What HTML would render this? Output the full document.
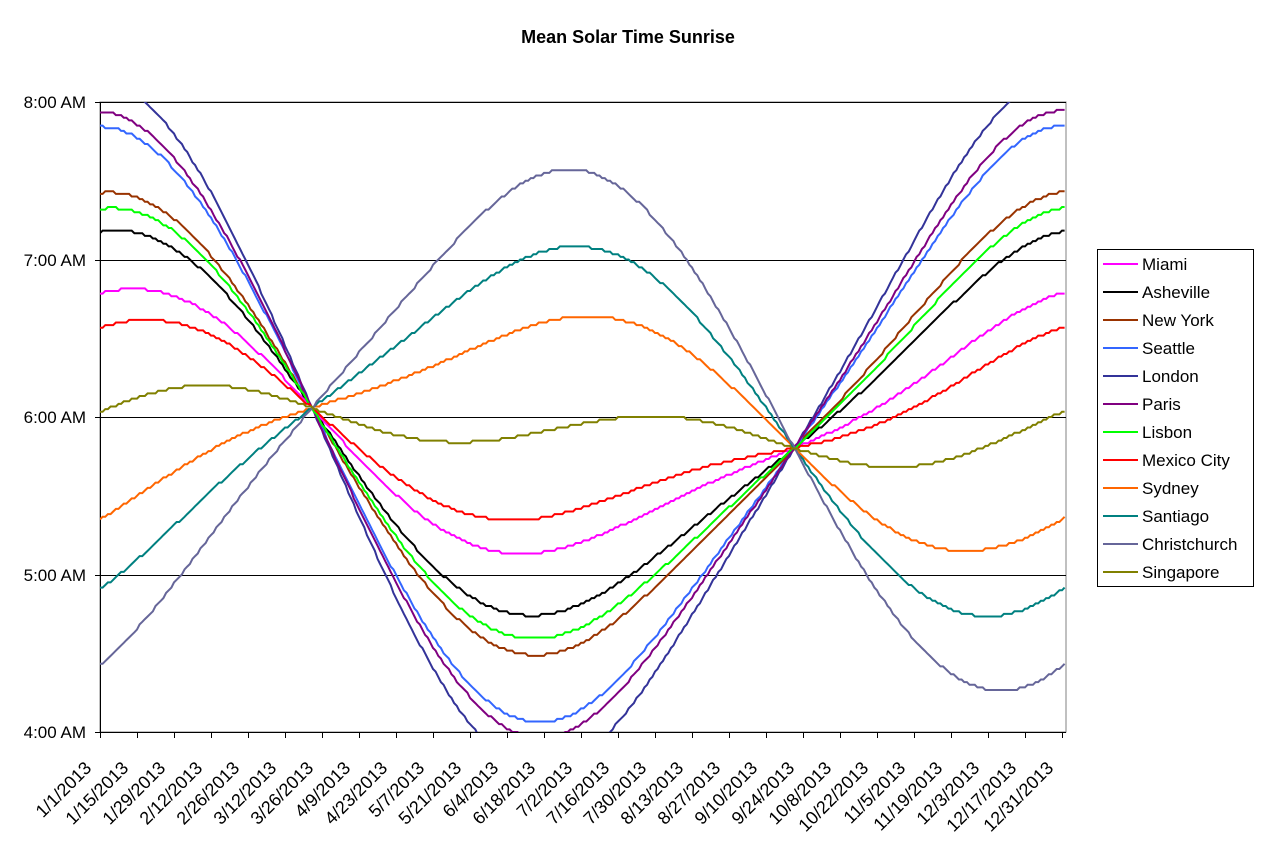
<!DOCTYPE html>
<html><head><meta charset="utf-8"><style>
html,body{margin:0;padding:0;background:#fff;}
svg{display:block;font-family:"Liberation Sans",Arial,sans-serif;}
</style></head><body>
<svg id="c" width="1263" height="842" viewBox="0 0 1263 842" xmlns="http://www.w3.org/2000/svg">
<rect width="1263" height="842" fill="#fff"/>
<text x="628" y="43" text-anchor="middle" font-size="18" font-weight="bold">Mean Solar Time Sunrise</text>
<defs><clipPath id="pc"><rect x="100" y="102" width="966" height="630"/></clipPath></defs>
<rect x="100" y="102" width="966" height="630" fill="none" stroke="#808080" stroke-width="1"/>
<g stroke="#000" stroke-width="1">
<line x1="100" y1="102.5" x2="1066" y2="102.5"/>
<line x1="100" y1="260.5" x2="1066" y2="260.5"/>
<line x1="100" y1="417.5" x2="1066" y2="417.5"/>
<line x1="100" y1="575.5" x2="1066" y2="575.5"/>
<line x1="100.5" y1="102" x2="100.5" y2="733"/>
<line x1="100" y1="732.5" x2="1066" y2="732.5"/>
<line x1="95" y1="102.5" x2="100" y2="102.5"/>
<line x1="95" y1="260.5" x2="100" y2="260.5"/>
<line x1="95" y1="417.5" x2="100" y2="417.5"/>
<line x1="95" y1="575.5" x2="100" y2="575.5"/>
<line x1="95" y1="732.5" x2="100" y2="732.5"/>
</g>
<g font-size="17" text-anchor="end">
<text x="86" y="108">8:00 AM</text>
<text x="86" y="266">7:00 AM</text>
<text x="86" y="423">6:00 AM</text>
<text x="86" y="581">5:00 AM</text>
<text x="86" y="738">4:00 AM</text>
</g>
<g id="ticks" stroke="#000"></g>
<g id="xl" font-size="18" text-anchor="end">
<text>1/1/2013</text><text>1/15/2013</text><text>1/29/2013</text><text>2/12/2013</text><text>2/26/2013</text><text>3/12/2013</text><text>3/26/2013</text><text>4/9/2013</text><text>4/23/2013</text><text>5/7/2013</text><text>5/21/2013</text><text>6/4/2013</text><text>6/18/2013</text><text>7/2/2013</text><text>7/16/2013</text><text>7/30/2013</text><text>8/13/2013</text><text>8/27/2013</text><text>9/10/2013</text><text>9/24/2013</text><text>10/8/2013</text><text>10/22/2013</text><text>11/5/2013</text><text>11/19/2013</text><text>12/3/2013</text><text>12/17/2013</text><text>12/31/2013</text>
</g>
<g id="lines" clip-path="url(#pc)" fill="none" stroke-width="2"></g>
<rect x="1097.5" y="249.5" width="156" height="337" fill="#fff" stroke="#000"/>
<g id="leg" font-size="17">
<text x="1142" y="270">Miami</text>
<text x="1142" y="298">Asheville</text>
<text x="1142" y="326">New York</text>
<text x="1142" y="354">Seattle</text>
<text x="1142" y="382">London</text>
<text x="1142" y="410">Paris</text>
<text x="1142" y="438">Lisbon</text>
<text x="1142" y="466">Mexico City</text>
<text x="1142" y="494">Sydney</text>
<text x="1142" y="522">Santiago</text>
<text x="1142" y="550">Christchurch</text>
<text x="1142" y="578">Singapore</text>
</g>
<g id="legl" stroke-width="2"></g>
</svg>
<script>
var NS="http://www.w3.org/2000/svg";
var cities=[["#FF00FF",25.8],["#000000",35.6],["#993300",40.7],["#3366FF",47.6],["#333399",51.5],["#800080",48.9],["#00FF00",38.7],["#FF0000",19.4],["#FF6600",-21.5],["#008080",-33.4],["#666699",-43.2],["#808000",1.35]];
var px=962/364;
function X(d){return 100+d*px;}
function Y(h){return 417-(h-6)*157.5;}
var lg=document.getElementById("lines"),ll=document.getElementById("legl");
cities.forEach(function(c,i){
  var pts=[];
  for(var d=0;d<=365;d++){
    var n=d+1;
    var dec=-23.44*Math.cos(2*Math.PI*(n+10)/365)*Math.PI/180;
    var lat=c[1]*Math.PI/180;
    var ch=-Math.tan(lat)*Math.tan(dec);ch=Math.max(-1,Math.min(1,ch));
    var H=Math.acos(ch)*180/Math.PI;
    var B=2*Math.PI*(n-81)/364;
    var E=9.87*Math.sin(2*B)-7.53*Math.cos(B)-1.5*Math.sin(B);
    var m=Math.round((12-H/15)*60-E-4);
    pts.push(X(d).toFixed(1)+","+Y(m/60).toFixed(1));
  }
  var p=document.createElementNS(NS,"polyline");
  p.setAttribute("points",pts.join(" "));p.setAttribute("stroke",c[0]);lg.appendChild(p);
  var l=document.createElementNS(NS,"line");
  var y=264+28*i;
  l.setAttribute("x1",1103);l.setAttribute("x2",1138);l.setAttribute("y1",y);l.setAttribute("y2",y);l.setAttribute("stroke",c[0]);ll.appendChild(l);
});
var tk=document.getElementById("ticks");
var labs=document.getElementById("xl").getElementsByTagName("text");
for(var i=0;i<27;i++){
  var x=100+i*37+0.5;
  var t=document.createElementNS(NS,"line");
  t.setAttribute("x1",x);t.setAttribute("x2",x);t.setAttribute("y1",732);t.setAttribute("y2",738);tk.appendChild(t);
  var ax=x-8,ay=769;
  labs[i].setAttribute("x",ax);labs[i].setAttribute("y",ay);
  labs[i].setAttribute("transform","rotate(-45 "+ax+" "+ay+")");
}
</script>
</body></html>
